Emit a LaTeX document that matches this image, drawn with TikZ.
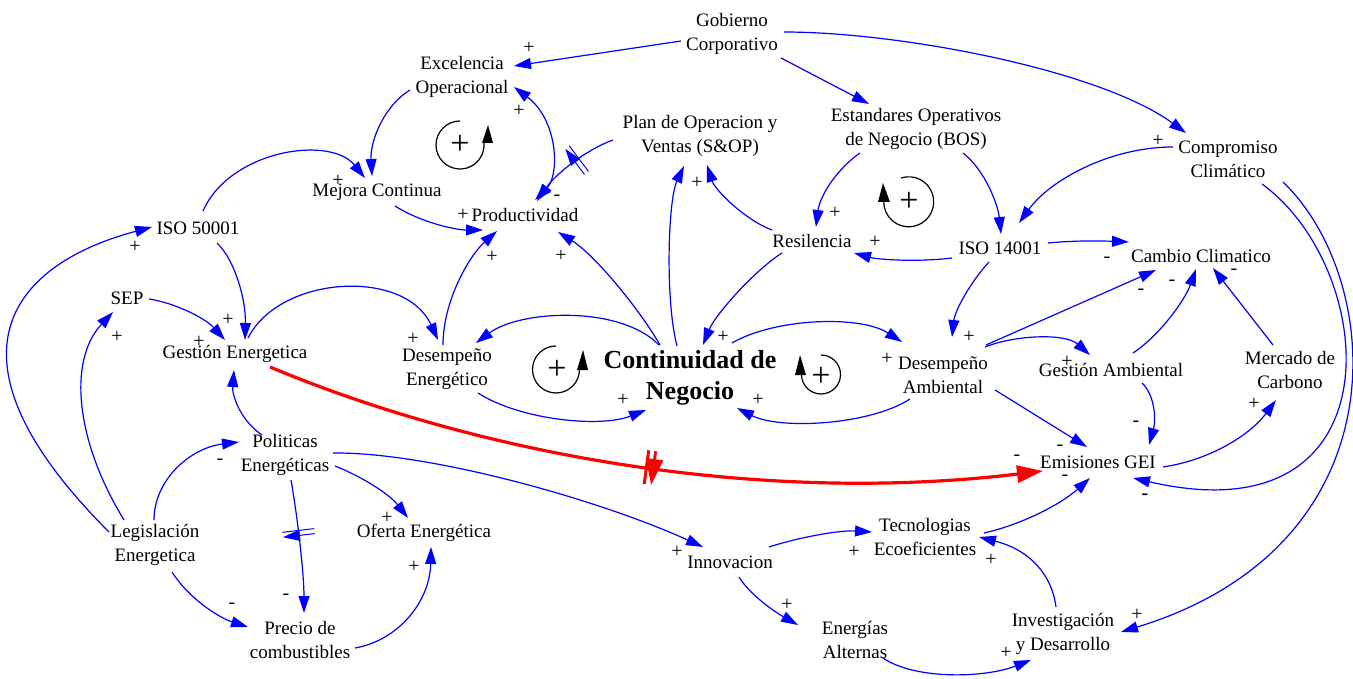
\documentclass[tikz,border=0pt]{standalone}
\usepackage{fontspec}
\setmainfont{Liberation Serif}
\usetikzlibrary{arrows.meta,decorations.markings}
\definecolor{cldblue}{RGB}{0,0,255}
\definecolor{cldred}{RGB}{255,0,0}
\tikzset{
  var/.style={align=center,inner sep=0pt,font=\fontsize{19}{24}\selectfont},
  bigvar/.style={align=center,inner sep=0pt,font=\fontsize{26}{31}\selectfont\bfseries},
  pol/.style={inner sep=0pt,font=\fontsize{20}{20}\selectfont},
  loopsign/.style={inner sep=0pt,font=\fontsize{34}{34}\selectfont},
  arr/.style={draw=cldblue,line width=1.2pt,-{Triangle[length=17pt,width=11pt]}},
  dblarr/.style={draw=cldblue,line width=1.2pt,{Triangle[length=17pt,width=11pt]}-{Triangle[length=17pt,width=11pt]}},
  redarr/.style={draw=cldred,line width=3.2pt,-{Triangle[length=26pt,width=17pt]}},
  loopline/.style={draw=black,line width=1.2pt},
  loophead/.style={fill=black},
  bluedelay/.style={postaction={decorate,decoration={markings,mark=at position #1 with {\draw[cldblue,line width=1pt] (-2.5,-16) -- (-2.5,16) (2.5,-16) -- (2.5,16);}}}},
  reddelay/.style={postaction={decorate,decoration={markings,mark=at position #1 with {\draw[cldred,line width=3pt] (-3.5,-17) -- (-3.5,17) (3.5,-17) -- (3.5,17);}}}}
}
\begin{document}
\begin{tikzpicture}[x=1pt,y=-1pt]
\useasboundingbox (0,0) rectangle (1353,679);
\fill[white] (0,0) rectangle (1353,679);

% variables
\node[var] (GC) at (732,34) {Gobierno\\Corporativo};
\node[var] (EO) at (462,77) {Excelencia\\Operacional};
\node[var] (PO) at (700,136) {Plan de Operacion y\\Ventas (S\&OP)};
\node[var] (BOS) at (916,129) {Estandares Operativos\\de Negocio (BOS)};
\node[var] (CC) at (1228,159) {Compromiso\\Climático};
\node[var] (MC) at (377,192) {Mejora Continua};
\node[var] (I5) at (198,228) {ISO 50001};
\node[var] (PR) at (525,215) {Productividad};
\node[var] (RE) at (812,241) {Resilencia};
\node[var] (I14) at (1000,248) {ISO 14001};
\node[var] (CAM) at (1201,256) {Cambio Climatico};
\node[var] (SEP) at (127,298) {SEP};
\node[var] (GE) at (235,354) {Gestión Energetica};
\node[var] (DE) at (447,369) {Desempeño\\Energético};
\node[bigvar] (CN) at (690,378) {Continuidad de\\Negocio};
\node[var] (DA) at (943,375) {Desempeño\\Ambiental};
\node[var] (GA) at (1111,370) {Gestión Ambiental};
\node[var] (MCA) at (1290,370) {Mercado de\\Carbono};
\node[var] (PE) at (285,455) {Politicas\\Energéticas};
\node[var] (EM) at (1098,462) {Emisiones GEI};
\node[var] (LE) at (155,545) {Legislación\\Energetica};
\node[var] (OE) at (424,533) {Oferta Energética};
\node[var] (TE) at (925,537) {Tecnologias\\Ecoeficientes};
\node[var] (IN) at (730,562) {Innovacion};
\node[var] (PC) at (300,640) {Precio de\\combustibles};
\node[var] (EA) at (855,640) {Energías\\Alternas};
\node[var] (ID) at (1063,634) {Investigación\\y Desarrollo};

% connectors
\draw[arr] ([shift={(-51,7)}]GC.center) -- ([shift={(52,-11)}]EO.center);
\draw[arr] ([shift={(49,24)}]GC.center) -- ([shift={(-47,-25)}]BOS.center);
\draw[arr] ([shift={(52,-2)}]GC.center) .. controls (900,32) and (1100,70) .. ([shift={(-42,-26)}]CC.center);
\draw[arr] ([shift={(-55,-12)}]CC.center) .. controls (1110,147) and (1050,180) .. ([shift={(19,-25)}]I14.center);
\draw[arr] ([shift={(34,25)}]CC.center) .. controls (1380,270) and (1400,540) .. ([shift={(35,16)}]EM.center);
\draw[arr] ([shift={(55,23)}]CC.center) .. controls (1385,280) and (1405,545) .. ([shift={(58,-2)}]ID.center);
\draw[arr] ([shift={(-56,24)}]BOS.center) .. controls (838,168) and (820,195) .. ([shift={(4,-14)}]RE.center);
\draw[arr] ([shift={(47,24)}]BOS.center) .. controls (985,170) and (998,205) .. ([shift={(1,-14)}]I14.center);
\draw[arr] ([shift={(-48,10)}]I14.center) .. controls (920,262) and (880,260) .. ([shift={(42,12)}]RE.center);
\draw[arr] ([shift={(48,-5)}]I14.center) .. controls (1080,240) and (1105,241) .. ([shift={(-72,-14)}]CAM.center);
\draw[arr] ([shift={(-11,14)}]I14.center) .. controls (972,280) and (955,310) .. ([shift={(9,-38)}]DA.center);
\draw[arr] ([shift={(-40,-11)}]RE.center) .. controls (745,220) and (715,190) .. ([shift={(7,29)}]PO.center);
\draw[arr] ([shift={(-30,12)}]RE.center) .. controls (755,270) and (715,315) .. ([shift={(13,-33)}]CN.center);
\draw[arr] ([shift={(-13,-32)}]CN.center) .. controls (665,300) and (668,200) .. ([shift={(-16,30)}]PO.center);
\draw[arr] ([shift={(-30,-33)}]CN.center) .. controls (640,310) and (595,255) .. ([shift={(33,17)}]PR.center);
\draw[arr] ([shift={(-31,-33)}]CN.center) .. controls (620,305) and (520,310) .. ([shift={(29,-26)}]DE.center);
\draw[arr] ([shift={(31,24)}]DE.center) .. controls (520,420) and (600,428) .. ([shift={(-44,32)}]CN.center);
\draw[arr] ([shift={(42,-35)}]CN.center) .. controls (775,318) and (860,315) .. ([shift={(-41,-33)}]DA.center);
\draw[arr] ([shift={(-33,24)}]DA.center) .. controls (870,425) and (780,430) .. ([shift={(47,30)}]CN.center);
\draw[arr] ([shift={(42,-28)}]DA.center) .. controls (1015,335) and (1065,333) .. ([shift={(-21,-15)}]GA.center);
\draw[arr] ([shift={(43,-30)}]DA.center) -- ([shift={(-45,14)}]CAM.center);
\draw[arr] ([shift={(22,-17)}]GA.center) .. controls (1160,335) and (1185,300) .. ([shift={(-5,13)}]CAM.center);
\draw[arr] ([shift={(-17,-25)}]MCA.center) -- ([shift={(12,12)}]CAM.center);
\draw[arr] ([shift={(31,13)}]GA.center) .. controls (1155,395) and (1156,420) .. ([shift={(51,-17)}]EM.center);
\draw[arr] ([shift={(52,15)}]DA.center) -- ([shift={(-11,-15)}]EM.center);
\draw[arr] ([shift={(65,5)}]EM.center) .. controls (1210,460) and (1250,435) .. ([shift={(-14,30)}]MCA.center);
\draw[redarr,reddelay=0.5] ([shift={(35,13)}]GE.center) .. controls (480,455) and (760,505) .. ([shift={(-55,9)}]EM.center);
\draw[arr] ([shift={(59,-4)}]TE.center) .. controls (1020,525) and (1060,505) .. ([shift={(-8,16)}]EM.center);
\draw[arr] ([shift={(-7,-27)}]ID.center) .. controls (1052,575) and (1030,550) .. ([shift={(54,0)}]TE.center);
\draw[arr] ([shift={(39,-15)}]IN.center) .. controls (800,537) and (840,530) .. ([shift={(-53,-5)}]TE.center);
\draw[arr] ([shift={(9,15)}]IN.center) .. controls (750,595) and (775,612) .. ([shift={(-57,-15)}]EA.center);
\draw[arr] ([shift={(28,18)}]EA.center) .. controls (915,680) and (985,678) .. ([shift={(-32,26)}]ID.center);
\draw[arr] ([shift={(48,-2)}]PE.center) .. controls (430,452) and (600,500) .. ([shift={(-27,-15)}]IN.center);
\draw[arr] ([shift={(50,11)}]PE.center) .. controls (365,478) and (390,495) .. ([shift={(-16,-15)}]OE.center);
\draw[arr,bluedelay=0.4] ([shift={(6,25)}]PE.center) .. controls (298,520) and (304,575) .. ([shift={(4,-27)}]PC.center);
\draw[arr] ([shift={(55,8)}]PC.center) .. controls (400,640) and (430,600) .. ([shift={(7,14)}]OE.center);
\draw[arr] ([shift={(-1,-25)}]LE.center) .. controls (154,480) and (190,448) .. ([shift={(-46,-13)}]PE.center);
\draw[arr] ([shift={(17,27)}]LE.center) .. controls (190,600) and (220,618) .. ([shift={(-52,-13)}]PC.center);
\draw[arr] ([shift={(-46,-13)}]LE.center) .. controls (-73,350) and (20,262) .. ([shift={(-46,-1)}]I5.center);
\draw[arr] ([shift={(-31,-25)}]LE.center) .. controls (75,440) and (68,360) .. ([shift={(-14,14)}]SEP.center);
\draw[arr] ([shift={(22,1)}]SEP.center) .. controls (175,303) and (205,318) .. ([shift={(-10,-14)}]GE.center);
\draw[arr] ([shift={(19,15)}]I5.center) .. controls (235,260) and (246,300) .. ([shift={(10,-14)}]GE.center);
\draw[arr] ([shift={(5,-17)}]I5.center) .. controls (230,150) and (330,135) .. ([shift={(-12,-14)}]MC.center);
\draw[arr] ([shift={(-52,13)}]EO.center) .. controls (385,105) and (370,140) .. ([shift={(-5,-16)}]MC.center);
\draw[arr] ([shift={(18,14)}]MC.center) .. controls (420,222) and (455,230) .. ([shift={(-42,15)}]PR.center);
\draw[dblarr] ([shift={(10,-15)}]PR.center) .. controls (560,175) and (558,120) .. ([shift={(52,10)}]EO.center);
\draw[arr,bluedelay=0.42] ([shift={(-87,4)}]PO.center) .. controls (585,150) and (555,175) .. ([shift={(12,-14)}]PR.center);
\draw[arr] ([shift={(-4,-24)}]DE.center) .. controls (443,300) and (470,255) .. ([shift={(-28,16)}]PR.center);
\draw[arr] ([shift={(13,-16)}]GE.center) .. controls (280,275) and (405,268) .. ([shift={(-9,-29)}]DE.center);
\draw[arr] ([shift={(-23,-20)}]PE.center) .. controls (240,420) and (232,395) .. ([shift={(-1,16)}]GE.center);

% loop symbols
\draw[loopline] (460,121) arc[start angle=270,end angle=-5,radius=24];
\fill[loophead] (482,143) -- (493,143) -- (488,125) -- cycle;
\node[loopsign] (L1) at (460,145) {+};
\draw[loopline] (901,178) arc[start angle=252,end angle=540,radius=25];
\fill[loophead] (878,202) -- (890,202) -- (883,183) -- cycle;
\node[loopsign] (L2) at (909,202) {+};
\draw[loopline] (556,346) arc[start angle=270,end angle=0,radius=23.5];
\fill[loophead] (577,370) -- (588,370) -- (583,350) -- cycle;
\node[loopsign] (L3) at (557,370) {+};
\draw[loopline] (821,355) arc[start angle=270,end angle=540,radius=19.5];
\fill[loophead] (795,375) -- (806,375) -- (800,355) -- cycle;
\node[loopsign] (L4) at (821,377) {+};

% polarity signs
\foreach \x/\y/\s [count=\i] in {
529/48/+, 519/111/+, 338/181/+, 463/215/+, 557/198/-, 492/257/+, 561/256/+,
697/183/+, 835/213/+, 875/242/+, 1158/141/+, 1107/260/-, 1141/292/-, 1172/283/-,
1234/272/-, 135/247/+, 117/337/+, 228/320/+, 199/342/+, 413/339/+, 623/400/+,
723/337/+, 758/400/+, 887/359/+, 969/337/+, 1067/362/+, 1136/424/-, 1060/448/-,
1017/458/-, 1065/478/-, 1254/404/+, 220/462/-, 286/597/-, 232/606/-, 387/518/+,
414/567/+, 677/552/+, 854/552/+, 991/560/+, 787/605/+, 1006/653/+, 1137/615/+}
  \node[pol] (pl\i) at (\x,\y) {\s};
\node[pol,font=\fontsize{20}{20}\selectfont\bfseries] (plb) at (1145,497) {-};
\end{tikzpicture}
\end{document}
